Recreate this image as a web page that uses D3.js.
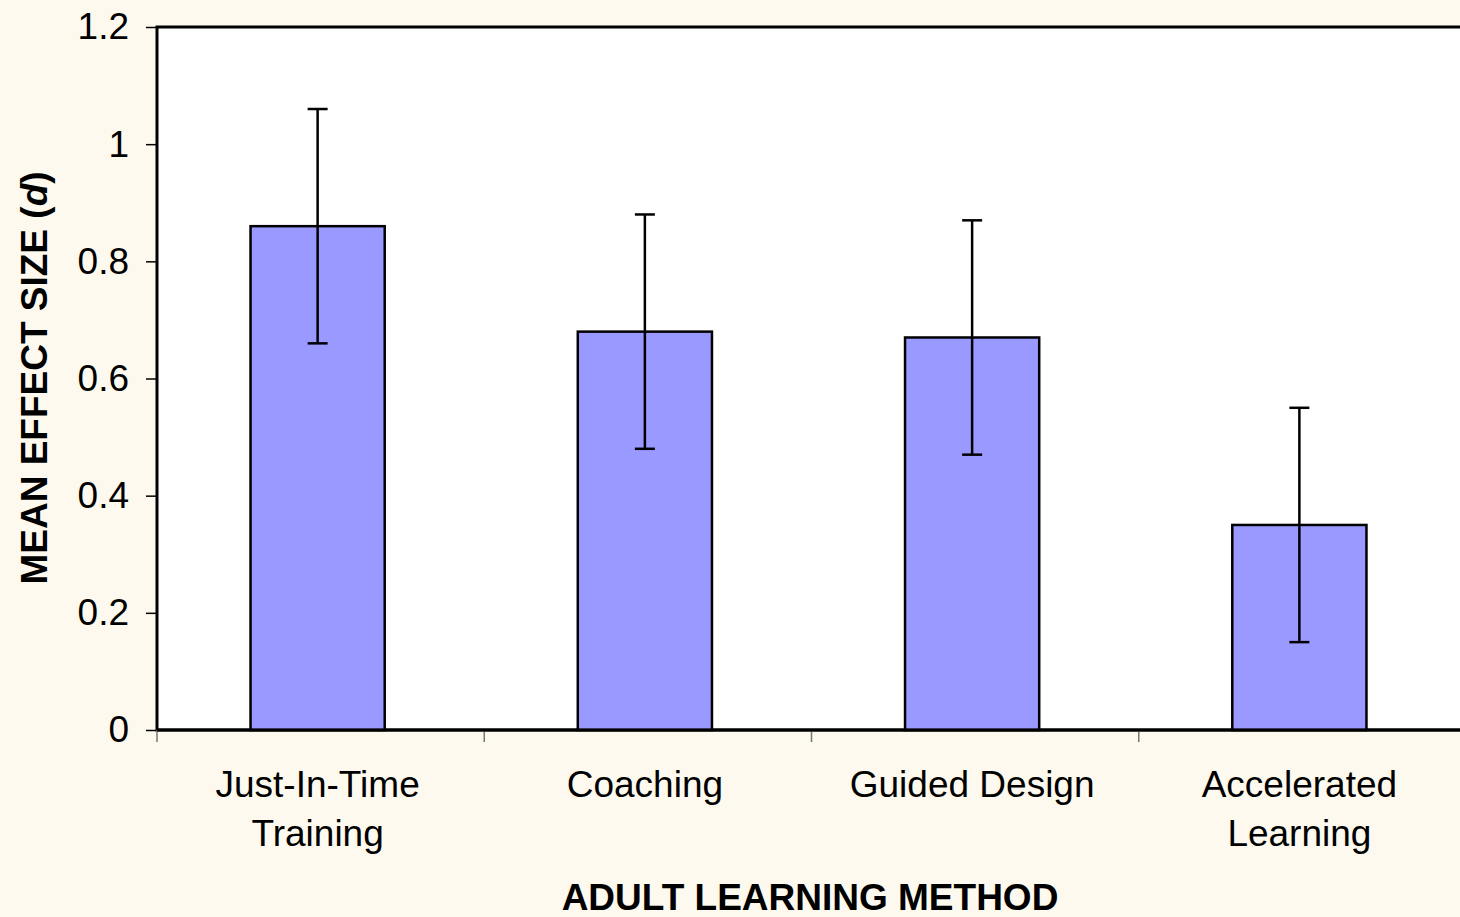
<!DOCTYPE html>
<html>
<head>
  <meta charset="utf-8">
  <style type="text/css">
  html, body {
    margin: 0;
    padding: 0;
    background: #fdf9ee;
  }
  body {
    font-family: "Liberation Sans", Arial, sans-serif;
    width: 1460px;
    height: 917px;
    overflow: hidden;
  }
  .axis text {
    font-size: 37px;
    fill: #000;
  }
  .axis path {
    display: none;
  }
  .axis line {
    stroke: #000;
    stroke-width: 1.5px;
  }
  .x.axis line {
    stroke: #777;
  }
  .title {
    font-size: 37px;
    font-weight: bold;
    fill: #000;
  }
  .bar {
    fill: #9999ff;
    stroke: #000;
    stroke-width: 2.5px;
  }
  .err line {
    stroke: #000;
    stroke-width: 2.5px;
  }
  </style>
</head>
<body>

  <script src="https://d3js.org/d3.v7.min.js"></script>
  <script>
    // categories, means and error bar ranges
    var methods = [["Just-In-Time", "Training"], ["Coaching"], ["Guided Design"], ["Accelerated", "Learning"]];
    var means = [0.86, 0.68, 0.67, 0.35];
    var errLow = [0.66, 0.48, 0.47, 0.15];
    var errHigh = [1.06, 0.88, 0.87, 0.55];
    var yTicks = [0, 0.2, 0.4, 0.6, 0.8, 1, 1.2];

    var margin = {top: 27, left: 157};
    // plot area runs past the right edge of the image, as in the original
    var width = 1309, height = 703;

    var svg = d3.select("body").append("svg")
        .attr("width", 1460)
        .attr("height", 917);

    var g = svg.append("g")
        .attr("transform", "translate(" + margin.left + "," + margin.top + ")");

    var x = d3.scaleBand()
        .domain(d3.range(methods.length))
        .range([-3, width - 3])
        .paddingInner(0.59)
        .paddingOuter(0.295);
    var xTick = d3.scaleLinear()
        .domain([0, methods.length])
        .range([0, width]);
    var y = d3.scaleLinear()
        .domain([0, 1.2])
        .range([height, 0]);

    // white plot area
    g.append("rect")
        .attr("width", width)
        .attr("height", height)
        .attr("fill", "#fff")
        .attr("stroke", "#000")
        .attr("stroke-width", 3);

    var yAxis = d3.axisLeft(y)
        .tickValues(yTicks)
        .tickFormat(function(d) { return d3.format("")(+d.toFixed(1)); })
        .tickSize(11)
        .tickPadding(17);
    g.append("g")
        .attr("class", "y axis")
        .call(yAxis);

    // category separator ticks below the axis
    g.append("g")
        .attr("class", "x axis")
        .selectAll("line")
        .data(d3.range(methods.length + 1))
      .enter().append("line")
        .attr("x1", function(d) { return xTick(d); })
        .attr("x2", function(d) { return xTick(d); })
        .attr("y1", height)
        .attr("y2", height + 12);

    g.selectAll(".bar")
        .data(means)
      .enter().append("rect")
        .attr("class", "bar")
        .attr("x", function(d, i) { return x(i); })
        .attr("width", x.bandwidth())
        .attr("y", function(d) { return y(d); })
        .attr("height", function(d) { return y(0) - y(d); });

    var cap = 10;
    var err = g.selectAll(".err")
        .data(means)
      .enter().append("g")
        .attr("class", "err")
        .attr("transform", function(d, i) { return "translate(" + (x(i) + x.bandwidth() / 2) + ",0)"; });
    err.append("line")
        .attr("y1", function(d, i) { return y(errLow[i]); })
        .attr("y2", function(d, i) { return y(errHigh[i]); });
    err.append("line")
        .attr("x1", -cap).attr("x2", cap)
        .attr("y1", function(d, i) { return y(errHigh[i]); })
        .attr("y2", function(d, i) { return y(errHigh[i]); });
    err.append("line")
        .attr("x1", -cap).attr("x2", cap)
        .attr("y1", function(d, i) { return y(errLow[i]); })
        .attr("y2", function(d, i) { return y(errLow[i]); });

    // axis line on top of everything
    g.append("line")
        .attr("x1", 0).attr("x2", width)
        .attr("y1", height).attr("y2", height)
        .attr("stroke", "#000").attr("stroke-width", 3);

    var labels = g.selectAll(".cat")
        .data(methods)
      .enter().append("text")
        .attr("class", "axis cat")
        .attr("text-anchor", "middle")
        .attr("font-size", "37px")
        .attr("transform", function(d, i) { return "translate(" + (x(i) + x.bandwidth() / 2) + "," + (height + 67) + ")"; });
    labels.selectAll("tspan")
        .data(function(d) { return d; })
      .enter().append("tspan")
        .attr("x", 0)
        .attr("dy", function(d, i) { return i ? 49 : 0; })
        .text(function(d) { return d; });

    svg.append("text")
        .attr("class", "title")
        .attr("text-anchor", "middle")
        .attr("x", 810)
        .attr("y", 910)
        .text("ADULT LEARNING METHOD");

    var yt = svg.append("text")
        .attr("class", "title")
        .attr("text-anchor", "middle")
        .attr("font-size", "38px")
        .attr("transform", "translate(47,378) rotate(-90)");
    yt.append("tspan").text("MEAN EFFECT SIZE (");
    yt.append("tspan").attr("font-style", "italic").text("d");
    yt.append("tspan").text(")");
  </script>
</body>
</html>
